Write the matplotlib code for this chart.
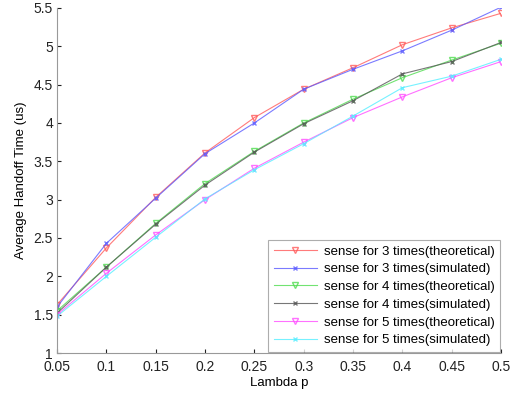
import matplotlib
matplotlib.use("Agg")
import matplotlib.pyplot as plt

x = [0.05, 0.1, 0.15, 0.2, 0.25, 0.3, 0.35, 0.4, 0.45, 0.5]
theo3 = [1.63, 2.37, 3.03, 3.61, 4.07, 4.44, 4.72, 5.02, 5.24, 5.43]
sim3 = [1.60, 2.43, 3.02, 3.60, 4.00, 4.44, 4.70, 4.94, 5.21, 5.51]
theo4 = [1.55, 2.12, 2.69, 3.21, 3.63, 4.00, 4.31, 4.59, 4.82, 5.04]
sim4 = [1.52, 2.12, 2.68, 3.19, 3.62, 3.99, 4.29, 4.64, 4.80, 5.05]
theo5 = [1.50, 2.04, 2.54, 3.00, 3.41, 3.75, 4.07, 4.34, 4.59, 4.80]
sim5 = [1.48, 2.00, 2.51, 3.01, 3.39, 3.73, 4.09, 4.46, 4.61, 4.83]

labels = ["sense for 3 times(theoretical)", "sense for 3 times(simulated)",
          "sense for 4 times(theoretical)", "sense for 4 times(simulated)",
          "sense for 5 times(theoretical)", "sense for 5 times(simulated)"]
series = [theo3, sim3, theo4, sim4, theo5, sim5]
colors = ["#ff5a5a", "#5a5aff", "#4fdc4f", "#555555", "#ff4dff", "#55eeff"]
markers = ["v", "x", "v", "x", "v", "x"]
msizes = [5, 3.5, 5, 3.5, 5, 3.5]

xticks = [0.05, 0.1, 0.15, 0.2, 0.25, 0.3, 0.35, 0.4, 0.45, 0.5]
xticklabels = ["0.05", "0.1", "0.15", "0.2", "0.25", "0.3", "0.35", "0.4", "0.45", "0.5"]
yticks = [1, 1.5, 2, 2.5, 3, 3.5, 4, 4.5, 5, 5.5]
yticklabels = ["1", "1.5", "2", "2.5", "3", "3.5", "4", "4.5", "5", "5.5"]

plt.rcParams['font.family'] = ['Liberation Sans', 'DejaVu Sans']
fig = plt.figure(figsize=(5.14, 3.94), dpi=100)
ax = fig.add_axes([0.111, 0.104, 0.864, 0.876])

for s, lab, c, m, ms in zip(series, labels, colors, markers, msizes):
    ax.plot(x, s, color=c, marker=m, markersize=ms, linewidth=0.8,
            markerfacecolor='none' if m == 'v' else c, markeredgewidth=1.0,
            label=lab, alpha=0.8)

ax.set_xlim(0.05, 0.5)
ax.set_ylim(1, 5.5)
ax.set_xticks(xticks)
ax.set_xticklabels(xticklabels)
ax.set_yticks(yticks)
ax.set_yticklabels(yticklabels)
ax.tick_params(direction='in', length=3, labelsize=10, colors='#222222')
ax.tick_params(axis='x', pad=5)
ax.tick_params(axis='y', pad=3)
for sp in ['top', 'right']:
    ax.spines[sp].set_visible(False)
for sp in ['left', 'bottom']:
    ax.spines[sp].set_color('#999999')
ax.set_xlabel("Lambda p", fontsize=9.5, labelpad=2)
ax.set_ylabel("Average Handoff Time (us)", fontsize=9.5, labelpad=5)

leg = ax.legend(loc='lower right', fontsize=9.5, frameon=True, fancybox=False,
                handlelength=3.3, handletextpad=0.5, borderpad=0.4,
                labelspacing=0.42, borderaxespad=0.1)
leg.get_frame().set_edgecolor('#999999')
leg.get_frame().set_linewidth(0.8)

fig.savefig("out.png", dpi=100)
